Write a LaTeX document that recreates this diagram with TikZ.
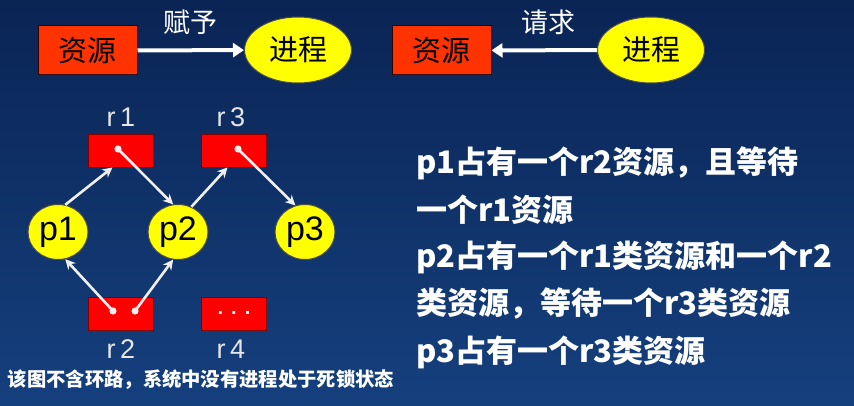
\documentclass[tikz,border=0pt]{standalone}
\usepackage{fontspec}
\setmainfont{Noto Sans CJK SC}
\newfontfamily\latf{Liberation Sans}
\usetikzlibrary{arrows.meta,shapes.geometric}
\definecolor{bgtop}{HTML}{0A2454}
\definecolor{bgbot}{HTML}{15407E}
\definecolor{resorange}{HTML}{FF3300}
\definecolor{resred}{HTML}{FF0000}
\definecolor{procyellow}{HTML}{FFFF00}
\definecolor{lbl}{HTML}{E6E6E6}
\definecolor{arrw}{HTML}{F0F0F0}
\tikzset{
  topres/.style={draw=black!80!red, line width=1pt, fill=resorange, minimum width=99pt, minimum height=49pt, inner sep=0pt, font=\fontsize{29}{29}\selectfont, text=black},
  topproc/.style={ellipse, draw=black!70, line width=1pt, fill=procyellow, minimum width=107pt, minimum height=66pt, inner sep=0pt, font=\fontsize{29}{29}\selectfont, text=black},
  bigarrow/.style={draw=white, line width=4pt, -{Triangle[length=11pt,width=14pt]}},
  toplabel/.style={text=white, font=\fontsize{27}{27}\selectfont},
  gres/.style={draw=red!50!black, line width=0.8pt, fill=resred, minimum width=65pt, minimum height=33pt, inner sep=0pt},
  gproc/.style={ellipse, draw=black!70, line width=1pt, fill=procyellow, minimum width=60pt, minimum height=55pt, inner sep=0pt, font=\latf\fontsize{34}{34}\selectfont, text=black},
  rlabel/.style={text=lbl, font=\latf\fontsize{27}{27}\selectfont},
  garrow/.style={draw=arrw, line width=2.6pt, -{Stealth[length=10pt,width=10pt]}},
  startdot/.style={fill=arrw},
  bodytext/.style={text=white, anchor=west, inner sep=0pt, font=\bfseries\fontsize{31}{31}\selectfont},
  foottext/.style={text=white, inner sep=0pt, font=\bfseries\fontsize{19.3}{19.3}\selectfont}
}
\begin{document}
\begin{tikzpicture}[x=1pt,y=-1pt]
\shade[top color=bgtop, bottom color=bgbot] (0,0) rectangle (854,406);
\useasboundingbox (0,0) rectangle (854,406);

% top legend
\node[topres] (res1) at (87.5,50.5) {资源};
\node[topproc] (proc1) at (298,50) {进程};
\draw[bigarrow] (res1) -- (proc1) node[midway, yshift=28pt, toplabel] (l1) {赋予};

\node[topres] (res2) at (441.5,50.5) {资源};
\node[topproc] (proc2) at (651,50) {进程};
\draw[bigarrow] (proc2) -- (res2) node[midway, yshift=28pt, xshift=4pt, toplabel] (l2) {请求};

% graph
\node[gres] (r1) at (120.5,150.5) {};
\node[gres] (r3) at (233.5,150.5) {};
\node[gres] (r2) at (121,313.5) {};
\node[gres, font=\latf\bfseries\fontsize{20}{20}\selectfont, text=white] (r4) at (234,313.5) {.\hspace{8pt}.\hspace{8pt}.};

\node[rlabel] (lr1) at (121,117) {r\,1};
\node[rlabel] (lr3) at (231,117) {r\,3};
\node[rlabel] (lr2) at (121,349) {r\,2};
\node[rlabel] (lr4) at (231,349) {r\,4};

\node[gproc] (p1) at (58,232) {p1};
\node[gproc] (p2) at (178,232) {p2};
\node[gproc] (p3) at (305,232) {p3};

% start points of assignment edges
\coordinate (d1) at (118,149);
\coordinate (d3) at (238,149);
\coordinate (d2a) at (113,311);
\coordinate (d2b) at (135,311);

\draw[garrow] (p1.75) -- ([xshift=-8pt]r1.south);
\draw[garrow] (d1) -- (p2.100);
\draw[garrow] (p2.62) -- ([xshift=-6pt]r3.south);
\draw[garrow] (d3) -- (p3.110);
\draw[garrow] (d2a) -- (p1.-75);
\draw[garrow] (d2b) -- (p2.-100);
\foreach \d in {d1,d3,d2a,d2b} \fill[startdot] (\d) circle (3.6pt);

% explanation text
\node[bodytext] (t1) at (416,163) {p1占有一个r2资源，且等待};
\node[bodytext] (t2) at (416,210) {一个r1资源};
\node[bodytext] (t3) at (416,257) {p2占有一个r1类资源和一个r2};
\node[bodytext] (t4) at (416,303.5) {类资源，等待一个r3类资源};
\node[bodytext] (t5) at (416,352) {p3占有一个r3类资源};

\node[foottext] (foot) at (201,380) {该图不含环路，系统中没有进程处于死锁状态};
\end{tikzpicture}
\end{document}
